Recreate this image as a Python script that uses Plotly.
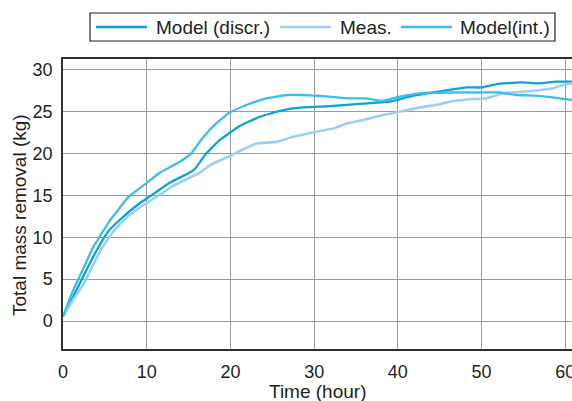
import plotly.graph_objects as go

# Model (discr.)
discr_t = [0, 1.2, 2.4, 4.0, 5.4, 6.8, 9.2, 10.4, 12.7, 15.1, 15.7, 17.1, 18.7, 21.1, 23.5,
           25.9, 28.3, 30.7, 32.3, 36.2, 39.0, 41.4, 44.2, 48.2, 50.0, 51.8, 54.6, 56.9, 58.9, 60.8]
discr_y = [0.55, 2.9, 5.3, 8.4, 10.7, 12.1, 14.1, 14.9, 16.5, 17.7, 18.1, 20.0, 21.6, 23.3, 24.4,
           25.1, 25.5, 25.6, 25.7, 26.0, 26.2, 26.8, 27.3, 27.9, 27.9, 28.3, 28.5, 28.4, 28.6, 28.6]

# Meas.
meas_t = [0, 1.2, 2.6, 4.4, 6.0, 7.6, 10.0, 11.6, 13.1, 15.1, 16.3, 17.7, 19.9, 21.3, 23.1,
          25.5, 27.5, 30.7, 32.3, 33.9, 35.8, 38.2, 40.2, 42.6, 45.0, 46.2, 48.6, 50.6, 52.6,
          56.2, 58.5, 59.7, 60.8]
meas_y = [0.55, 2.5, 4.7, 8.3, 10.7, 12.4, 14.1, 15.1, 16.1, 17.1, 17.7, 18.7, 19.7, 20.4, 21.2,
          21.4, 22.0, 22.7, 23.0, 23.6, 24.0, 24.6, 25.0, 25.5, 25.9, 26.2, 26.5, 26.6, 27.2,
          27.5, 27.8, 28.2, 28.4]

# Model(int.)
int_t = [0, 1.1, 2.3, 3.6, 5.6, 7.8, 10.0, 11.4, 13.9, 15.3, 15.9, 16.7, 18.3, 19.9, 21.9,
         24.3, 26.7, 28.3, 30.7, 33.9, 36.2, 38.2, 40.2, 42.6, 46.2, 49.8, 52.2, 54.2, 56.9,
         60.1, 60.8]
int_y = [0.55, 3.4, 6.0, 8.8, 12.0, 14.8, 16.5, 17.6, 19.0, 20.0, 20.8, 21.9, 23.6, 24.9, 25.8,
         26.6, 27.0, 27.0, 26.9, 26.6, 26.6, 26.3, 26.8, 27.2, 27.3, 27.3, 27.3, 27.0, 26.9,
         26.5, 26.4]

series_names = ["Model (discr.)", "Meas.", "Model(int.)"]
series_colors = ["#0aa3dc", "#9dd0ef", "#3bbfea"]

x_ticks = [0, 10, 20, 30, 40, 50, 60]
y_ticks = [0, 5, 10, 15, 20, 25, 30]
x_title = "Time (hour)"
y_title = "Total mass removal (kg)"

FONT = "Liberation Sans, Arial, sans-serif"
TXT = "#231f20"

W, H = 572, 401
ML, MR, MT, MB = 63, 0, 59, 52
PW, PH = W - ML - MR, H - MT - MB


def px_x(p):
    return (p - ML) / PW


def px_y(p):
    return (H - MB - p) / PH


fig = go.Figure()
for (xs, ys), name, col, w in zip([(discr_t, discr_y), (meas_t, meas_y), (int_t, int_y)],
                                  series_names, series_colors, [2.3, 2.6, 2.3]):
    fig.add_trace(go.Scatter(x=xs, y=ys, mode="lines", name=name, showlegend=False,
                             line=dict(color=col, width=w, shape="spline", smoothing=0.3)))

# manual legend (box, line samples, labels)
shapes = [dict(type="rect", xref="paper", yref="paper",
               x0=px_x(90), x1=px_x(555), y0=px_y(41), y1=px_y(13),
               line=dict(color=TXT, width=1.2), fillcolor="white", layer="above")]
annotations = []
line_starts = [96, 280, 401]
text_starts = [154, 338, 458]
for name, col, ls, ts in zip(series_names, series_colors, line_starts, text_starts):
    shapes.append(dict(type="line", xref="paper", yref="paper",
                       x0=px_x(ls), x1=px_x(ls + 51), y0=px_y(27), y1=px_y(27),
                       line=dict(color=col, width=2.6), layer="above"))
    annotations.append(dict(text=name, xref="paper", yref="paper", x=px_x(ts), y=px_y(27.5),
                            xanchor="left", yanchor="middle", showarrow=False,
                            font=dict(size=19, color=TXT, family=FONT)))

# axis titles
annotations.append(dict(text=x_title, xref="paper", yref="paper", x=px_x(317), y=px_y(391),
                        xanchor="center", yanchor="middle", showarrow=False,
                        font=dict(size=19, color=TXT, family=FONT)))
annotations.append(dict(text=y_title, xref="paper", yref="paper", x=px_x(19), y=px_y(215),
                        xanchor="center", yanchor="middle", showarrow=False, textangle=-90,
                        font=dict(size=19, color=TXT, family=FONT)))

fig.update_layout(
    width=W, height=H,
    margin=dict(l=ML, r=MR, t=MT, b=MB, autoexpand=False),
    paper_bgcolor="white", plot_bgcolor="white",
    font=dict(family=FONT, size=18, color=TXT),
    showlegend=False,
    shapes=shapes,
    annotations=annotations,
    xaxis=dict(range=[0, 60.8], tickvals=x_ticks, ticktext=[str(v) for v in x_ticks],
               showgrid=True, gridcolor="#9a9a9a", gridwidth=1,
               showline=True, linecolor="#333333", linewidth=1.5, mirror=True,
               ticks="outside", ticklen=6, tickcolor="rgba(0,0,0,0)",
               ticklabeloverflow="allow",
               zeroline=False, automargin=False),
    yaxis=dict(range=[-3.34, 31.3], tickvals=y_ticks, ticktext=[str(v) for v in y_ticks],
               showgrid=True, gridcolor="#9a9a9a", gridwidth=1,
               showline=True, linecolor="#333333", linewidth=1.5,
               ticks="outside", ticklen=5, tickcolor="rgba(0,0,0,0)",
               zeroline=False, automargin=False),
)

fig.write_html("out.html", config={"displayModeBar": False},
               post_script="document.body.style.margin='0';document.body.style.overflow='hidden';")
